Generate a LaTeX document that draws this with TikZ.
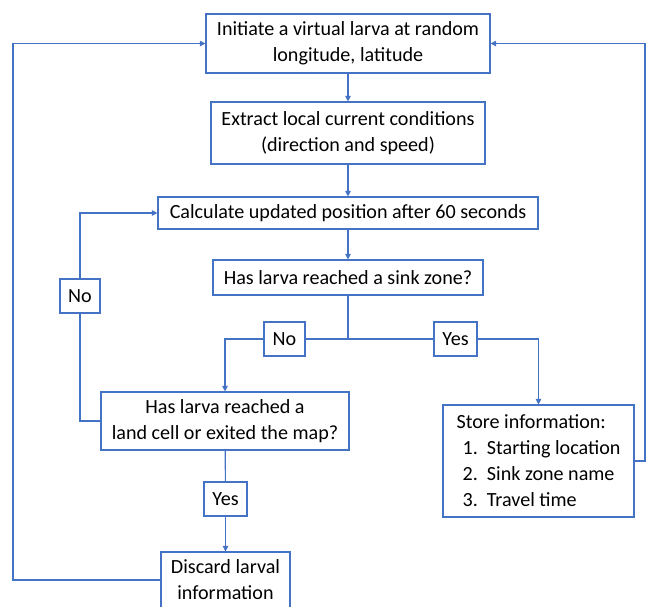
\documentclass[tikz,border=0pt]{standalone}
\usepackage{fontspec}
\setmainfont{Carlito}
\usepackage{tikz}
\usetikzlibrary{arrows.meta, positioning, calc}
\usepackage{xcolor}
\definecolor{flowblue}{RGB}{68,114,196}

\begin{document}
\begin{tikzpicture}[
x=0.025cm, y=-0.025cm,
box/.style={rectangle, draw=flowblue, line width=0.8pt, align=center, inner sep=2pt,
  font=\fontsize{14.3}{18.5}\selectfont},
lbl/.style={box, minimum height=34*0.025cm},
arrow/.style={-{Triangle[width=4pt,length=4pt]}, draw=flowblue, line width=0.8pt},
line/.style={draw=flowblue, line width=0.8pt}
]
\useasboundingbox (0,0) rectangle (647,607);

\node[box, minimum width=284*0.025cm, minimum height=59*0.025cm] (init) at (348,43.5)
  {Initiate a virtual larva at random\\longitude, latitude};
\node[box, minimum width=274*0.025cm, minimum height=62*0.025cm] (extract) at (348,133)
  {Extract local current conditions\\(direction and speed)};
\node[box, minimum width=380*0.025cm, minimum height=32*0.025cm] (calc) at (348,213)
  {Calculate updated position after 60 seconds};
\node[box, minimum width=270*0.025cm, minimum height=35*0.025cm] (sink) at (348,277.5)
  {Has larva reached a sink zone?};
\node[box, minimum width=248*0.025cm, minimum height=58*0.025cm] (land) at (225,421)
  {Has larva reached a\\land cell or exited the map?};
\node[box, align=left, minimum width=191*0.025cm, minimum height=112*0.025cm] (store) at (538.5,461)
  {Store information:\\\hspace{0.3em}1.\ \ Starting location\\\hspace{0.3em}2.\ \ Sink zone name\\\hspace{0.3em}3.\ \ Travel time};
\node[box, minimum width=129*0.025cm, minimum height=56*0.025cm] (discard) at (225.5,580)
  {Discard larval\\information};

% branch labels
\node[lbl, minimum width=41*0.025cm] (noS) at (284.5,339) {No};
\node[lbl, minimum width=43*0.025cm] (yesS) at (455.5,339) {Yes};
\node[lbl, minimum width=40*0.025cm] (noL) at (80,296) {No};
\node[lbl, minimum width=43*0.025cm] (yesL) at (225.5,499) {Yes};

\coordinate (junc) at (348,339);
\coordinate (leftx) at (13,300);
\coordinate (rightx) at (645,300);

\draw[arrow] (init) -- (extract);
\draw[arrow] (extract) -- (calc);
\draw[arrow] (calc) -- (sink);

\draw[line] (sink) -- (junc);
\draw[line] (junc) -- (noS);
\draw[arrow] (noS.west) -| (land.north);
\draw[line] (junc) -- (yesS);
\draw[arrow] (yesS.east) -| (store.north);

\draw[line] (land) -- (yesL);
\draw[arrow] (yesL) -- (discard);

\draw[line] (land.west) -| (noL.south);
\draw[arrow] (noL.north) |- (calc.west);

\draw[arrow] (discard.west) -| (leftx) |- (init.west);
\draw[arrow] (store.east) -| (rightx) |- (init.east);

\end{tikzpicture}
\end{document}
